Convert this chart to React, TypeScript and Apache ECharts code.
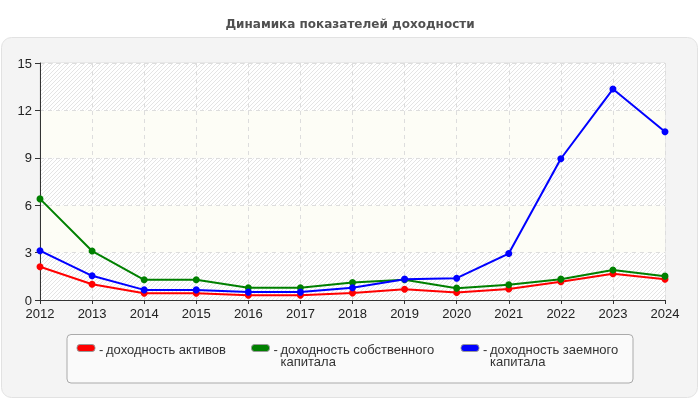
import React, { useEffect, useRef } from "react";
import * as echarts from "echarts";

const years = ["2012", "2013", "2014", "2015", "2016", "2017", "2018", "2019", "2020", "2021", "2022", "2023", "2024"];
const seriesNames = ["доходность активов", "доходность собственного\nкапитала", "доходность заемного\nкапитала"];
const seriesColors = ["#ff0000", "#008000", "#0000ff"];
const assetsReturn = [2.1, 1.0, 0.43, 0.43, 0.3, 0.3, 0.45, 0.68, 0.47, 0.7, 1.15, 1.66, 1.32];
const equityReturn = [6.4, 3.1, 1.28, 1.28, 0.78, 0.78, 1.1, 1.28, 0.75, 0.96, 1.32, 1.9, 1.51];
const debtReturn = [3.12, 1.53, 0.64, 0.64, 0.5, 0.5, 0.77, 1.32, 1.38, 2.94, 8.94, 13.35, 10.65];
const yMax = 15;
const yStep = 3;

const FONT = "'Liberation Sans', Arial, sans-serif";
const TITLE_FONT = "'DejaVu Sans', Verdana, sans-serif";

// legend item x positions inside the legend box
const legendX = [77, 251.5, 461];

function makeHatch() {
  const c = document.createElement("canvas");
  c.width = 4;
  c.height = 4;
  const ctx = c.getContext("2d");
  if (ctx) {
    ctx.fillStyle = "#ffffff";
    ctx.fillRect(0, 0, 4, 4);
    ctx.strokeStyle = "#e4e4e4";
    ctx.lineWidth = 1;
    ctx.beginPath();
    ctx.moveTo(-1, 5);
    ctx.lineTo(5, -1);
    ctx.moveTo(-1, 1);
    ctx.lineTo(1, -1);
    ctx.moveTo(3, 5);
    ctx.lineTo(5, 3);
    ctx.stroke();
  }
  return c;
}

const App: React.FC = () => {
  const chartRef = useRef<HTMLDivElement>(null);

  useEffect(() => {
    if (!chartRef.current) return;
    const chart = echarts.init(chartRef.current, undefined, { renderer: "svg" });
    const data = [assetsReturn, equityReturn, debtReturn];

    const legendItems: any[] = [];
    seriesNames.forEach((name, i) => {
      const x = legendX[i];
      legendItems.push({
        type: "rect",
        shape: { x, y: 344.5, width: 18, height: 7, r: 3 },
        style: { fill: seriesColors[i], stroke: "#999", lineWidth: 1 },
        z: 10,
      });
      legendItems.push({
        type: "text",
        x: x + 22,
        y: 349.5,
        style: { text: "-", fill: "#333", font: `13px ${FONT}`, verticalAlign: "middle" },
        z: 10,
      });
      name.split("\n").forEach((line, j) => {
        legendItems.push({
          type: "text",
          x: x + 29,
          y: 349.5 + j * 11.5,
          style: { text: line, fill: "#333", font: `13px ${FONT}`, verticalAlign: "middle" },
          z: 10,
        });
      });
    });

    const option: echarts.EChartsOption = {
      animation: false,
      title: {
        text: "Динамика показателей доходности",
        left: "center",
        top: 13,
        textStyle: { fontSize: 12, fontWeight: "bold", color: "#505050", fontFamily: TITLE_FONT },
      },
      graphic: [
        {
          type: "rect",
          z: -100,
          shape: { x: 1.5, y: 37.5, width: 696, height: 360, r: 10 },
          style: { fill: "#f4f4f4", stroke: "#e2e2e2", lineWidth: 1 },
        },
        {
          type: "rect",
          z: 5,
          shape: { x: 67, y: 334.5, width: 566, height: 48.5, r: 4 },
          style: { fill: "#fafafa", stroke: "#aaaaaa", lineWidth: 1 },
        },
        ...legendItems,
      ],
      grid: {
        left: 40,
        right: 35,
        top: 63,
        bottom: 100,
        show: true,
        backgroundColor: "#ffffff",
        borderColor: "#dddddd",
        borderWidth: 1,
      },
      xAxis: {
        type: "category",
        data: years,
        boundaryGap: false,
        axisLine: { lineStyle: { color: "#333", width: 1 } },
        axisTick: { show: true, length: 4, lineStyle: { color: "#333" } },
        axisLabel: { fontSize: 13, color: "#222", margin: 7, fontFamily: FONT },
        splitLine: { show: true, lineStyle: { color: "#dddddd", type: [4, 4] } },
      },
      yAxis: {
        type: "value",
        min: 0,
        max: yMax,
        interval: yStep,
        axisLine: { show: true, lineStyle: { color: "#333", width: 1 } },
        axisTick: { show: true, length: 5, lineStyle: { color: "#333" } },
        axisLabel: { fontSize: 13, color: "#222", margin: 8, fontFamily: FONT },
        splitLine: { show: true, lineStyle: { color: "#dddddd", type: [4, 4] } },
        splitArea: {
          show: true,
          areaStyle: {
            color: [{ image: makeHatch(), repeat: "repeat" } as any, "#fdfdf6"],
          },
        },
      },
      series: seriesNames.map((name, i) => ({
        name,
        type: "line",
        data: data[i],
        symbol: "circle",
        symbolSize: 7,
        color: seriesColors[i],
        lineStyle: { width: 2, color: seriesColors[i] },
        itemStyle: { color: seriesColors[i] },
      })),
    };

    chart.setOption(option);
    return () => {
      chart.dispose();
    };
  }, []);

  return <div ref={chartRef} style={{ position: "fixed", left: 0, top: 0, width: "700px", height: "400px" }} />;
};

export default App;
